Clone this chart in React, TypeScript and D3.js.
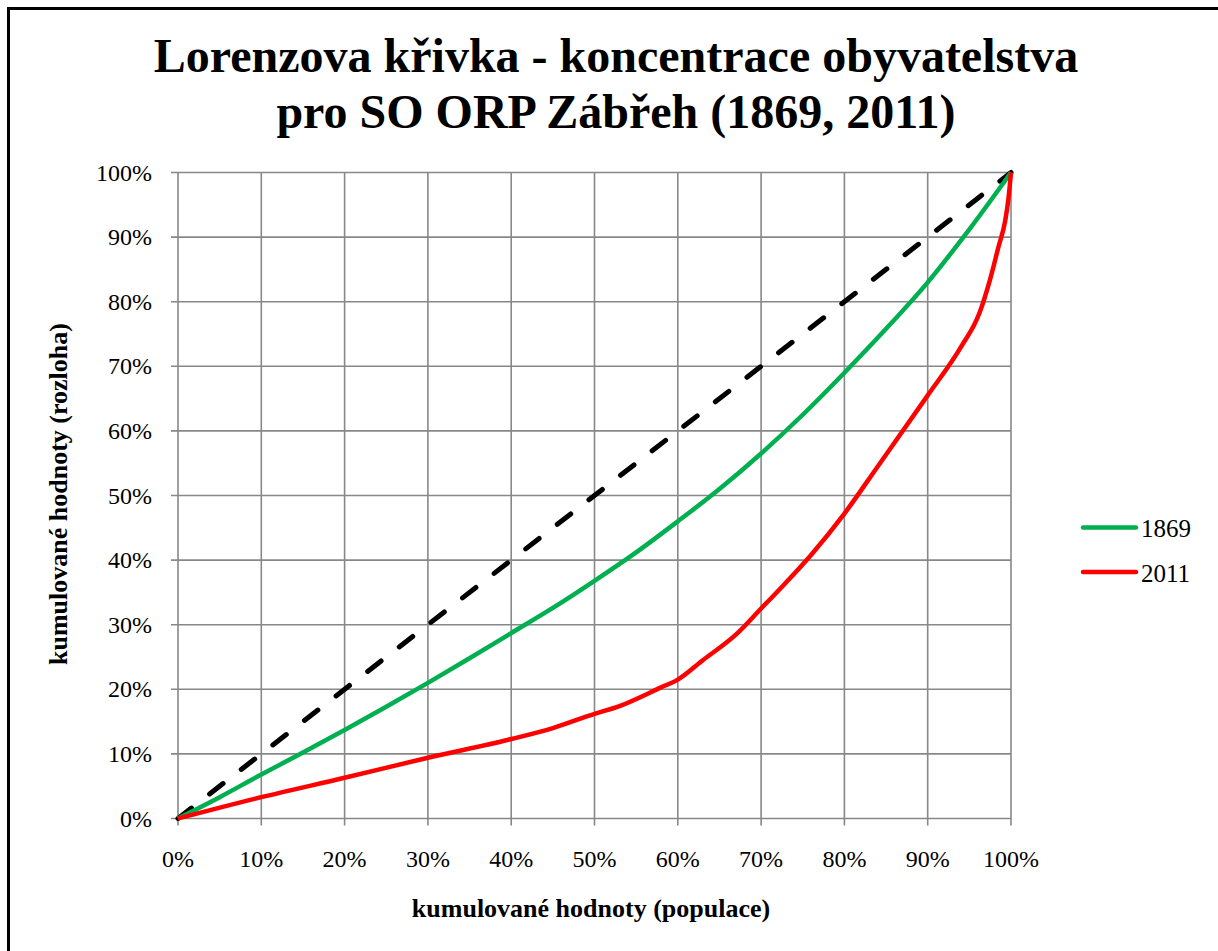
import React from "react";
import * as d3 from "d3";

const title1 = "Lorenzova křivka - koncentrace obyvatelstva";
const title2 = "pro SO ORP Zábřeh (1869, 2011)";
const xTitle = "kumulované hodnoty (populace)";
const yTitle = "kumulované hodnoty (rozloha)";

const ticks = [0, 0.1, 0.2, 0.3, 0.4, 0.5, 0.6, 0.7, 0.8, 0.9, 1];

const diagX = [0, 1];
const diagY = [0, 1];

const x1869 = [0, 0.05, 0.1, 0.15, 0.2, 0.25, 0.3, 0.35, 0.4, 0.45, 0.5, 0.55, 0.6, 0.65, 0.7, 0.75, 0.8, 0.85, 0.9, 0.95, 1];
const y1869 = [0, 0.033, 0.068, 0.102, 0.137, 0.173, 0.21, 0.248, 0.287, 0.326, 0.368, 0.412, 0.46, 0.51, 0.565, 0.625, 0.69, 0.758, 0.83, 0.912, 1];

const x2011 = [0, 0.1, 0.2, 0.3, 0.4, 0.45, 0.5, 0.53, 0.58, 0.6, 0.63, 0.67, 0.7, 0.726, 0.76, 0.8, 0.84, 0.9, 0.94, 0.962, 0.975, 0.985, 0.993, 0.997, 1];
const y2011 = [0, 0.033, 0.063, 0.094, 0.123, 0.14, 0.162, 0.174, 0.203, 0.215, 0.245, 0.285, 0.325, 0.36, 0.408, 0.472, 0.545, 0.655, 0.73, 0.782, 0.835, 0.885, 0.925, 0.96, 1];

const series = [
  { name: "1869", xs: x1869, ys: y1869, color: "#00B050" },
  { name: "2011", xs: x2011, ys: y2011, color: "#FF0000" },
];

export default function App() {
  const left = 178, right = 1011, top = 172.5, bottom = 818.5;
  const x = d3.scaleLinear().domain([0, 1]).range([left, right]);
  const y = d3.scaleLinear().domain([0, 1]).range([bottom, top]);
  const line = d3.line<[number, number]>().x((d) => x(d[0])).y((d) => y(d[1])).curve(d3.curveMonotoneX);
  const lin = d3.line<[number, number]>().x((d) => x(d[0])).y((d) => y(d[1]));
  const fmt = d3.format(".0%");
  const font = "'Liberation Serif', 'Times New Roman', serif";
  return (
    <svg width={1218} height={951} style={{ position: "absolute", left: 0, top: 0, background: "#fff" }} fontFamily={font}>
      <rect x={0} y={0} width={1218} height={951} fill="#fff" />
      <rect x={8.5} y={8.5} width={1300} height={1000} fill="none" stroke="#000" strokeWidth={3} />
      <text x={616} y={72} textAnchor="middle" fontSize={48} fontWeight="bold">{title1}</text>
      <text x={616} y={128} textAnchor="middle" fontSize={48} fontWeight="bold">{title2}</text>
      <g stroke="#888" strokeWidth={1.6}>
        {ticks.map((t) => (
          <line key={"h" + t} x1={x(0) - 7} x2={x(1)} y1={y(t)} y2={y(t)} />
        ))}
        {ticks.map((t) => (
          <line key={"v" + t} x1={x(t)} x2={x(t)} y1={y(1)} y2={y(0) + 7} />
        ))}
      </g>
      <g fontSize={24} fill="#000">
        {ticks.map((t) => (
          <text key={"yl" + t} x={152} y={y(t) + 8} textAnchor="end">{fmt(t)}</text>
        ))}
        {ticks.map((t) => (
          <text key={"xl" + t} x={x(t)} y={867} textAnchor="middle">{fmt(t)}</text>
        ))}
      </g>
      <path
        d={lin(diagX.map((v, i) => [v, diagY[i]]) as [number, number][]) || ""}
        fill="none" stroke="#000" strokeWidth={5} strokeDasharray="17 23" strokeLinecap="round"
      />
      {series.map((s) => (
        <path key={s.name} d={line(s.xs.map((v, i) => [v, s.ys[i]]) as [number, number][]) || ""}
          fill="none" stroke={s.color} strokeWidth={4.5} strokeLinejoin="round" />
      ))}
      <text x={591} y={917} textAnchor="middle" fontSize={26} fontWeight="bold">{xTitle}</text>
      <text transform="translate(67,494) rotate(-90)" textAnchor="middle" fontSize={26} fontWeight="bold">{yTitle}</text>
      {series.map((s, i) => (
        <g key={"lg" + s.name}>
          <line x1={1083} x2={1136} y1={527.5 + i * 44.5} y2={527.5 + i * 44.5} stroke={s.color} strokeWidth={4.5} strokeLinecap="round" />
          <text x={1141} y={537 + i * 44.5} fontSize={25}>{s.name}</text>
        </g>
      ))}
    </svg>
  );
}
